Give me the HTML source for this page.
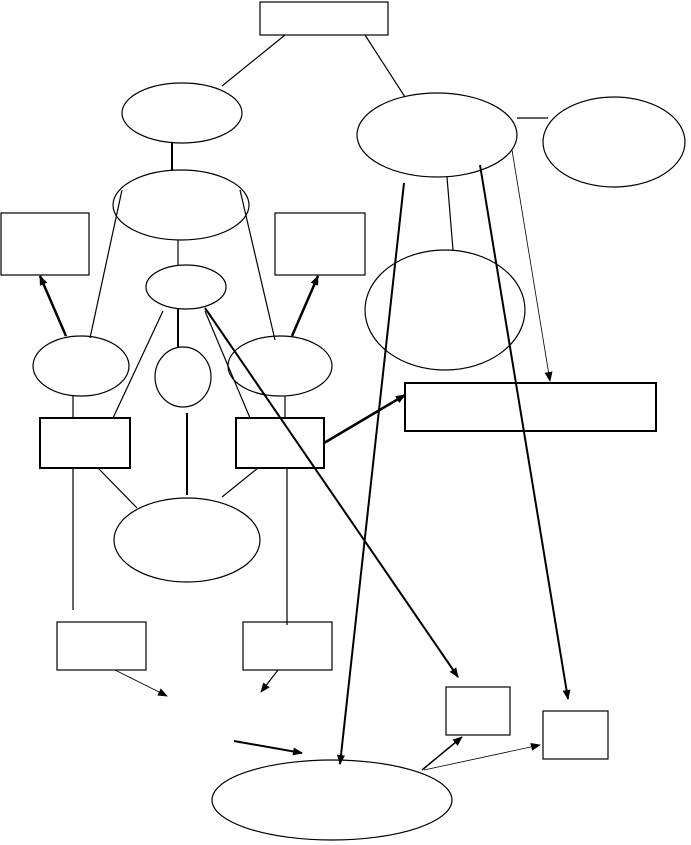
<!DOCTYPE html>
<html><head><meta charset="utf-8"><style>html,body{margin:0;padding:0;background:#fff}svg{display:block}</style></head>
<body>
<svg width="691" height="845" viewBox="0 0 691 845" xmlns="http://www.w3.org/2000/svg">
<defs>
<marker id="ah" markerWidth="10" markerHeight="10" refX="9" refY="5" orient="auto" markerUnits="userSpaceOnUse"><path d="M0,1 L10,5 L0,9 z" fill="#000"/></marker>
</defs>
<g fill="none" stroke="#000" stroke-width="1.2">
<rect x="260" y="2" width="128" height="33"/>
<rect x="1" y="213" width="88" height="62"/>
<rect x="275" y="213" width="90" height="62"/>
<rect x="40" y="418" width="90" height="50" stroke-width="2"/>
<rect x="236" y="418" width="88" height="50" stroke-width="2"/>
<rect x="57" y="622" width="89" height="48"/>
<rect x="243" y="622" width="89" height="48"/>
<rect x="446" y="687" width="64" height="48"/>
<rect x="543" y="711" width="65" height="48"/>
<rect x="405" y="383" width="251" height="48" stroke-width="2"/>
<ellipse cx="182" cy="113" rx="60" ry="30"/>
<ellipse cx="181" cy="205" rx="68" ry="35"/>
<ellipse cx="186" cy="287" rx="40" ry="22"/>
<ellipse cx="81" cy="366" rx="48" ry="30"/>
<ellipse cx="183" cy="377" rx="28" ry="30"/>
<ellipse cx="280" cy="366" rx="52" ry="30"/>
<ellipse cx="187" cy="540" rx="73" ry="42"/>
<ellipse cx="332" cy="800" rx="120" ry="40"/>
<ellipse cx="437" cy="135" rx="80" ry="42"/>
<ellipse cx="614" cy="142" rx="71" ry="45"/>
<ellipse cx="445" cy="310" rx="80" ry="60"/>
<line x1="285" y1="35" x2="222" y2="86"/>
<line x1="365" y1="35" x2="405" y2="97"/>
<line x1="172" y1="143" x2="172" y2="170" stroke-width="2"/>
<line x1="178" y1="240" x2="178" y2="265"/>
<line x1="122" y1="190" x2="90" y2="338"/>
<line x1="240" y1="190" x2="275" y2="340"/>
<line x1="178" y1="309" x2="178" y2="347" stroke-width="2"/>
<line x1="163" y1="311" x2="113" y2="418"/>
<line x1="205" y1="311" x2="250" y2="418"/>
<line x1="73" y1="396" x2="73" y2="418"/>
<line x1="285" y1="396" x2="285" y2="418"/>
<line x1="187" y1="413" x2="187" y2="495" stroke-width="2"/>
<line x1="98" y1="468" x2="137" y2="508"/>
<line x1="258" y1="468" x2="222" y2="497"/>
<line x1="73" y1="468" x2="73" y2="610"/>
<line x1="287" y1="468" x2="287" y2="625"/>
<line x1="517" y1="118" x2="548" y2="118"/>
<line x1="447" y1="177" x2="453" y2="250"/>
</g>
<g fill="none" stroke="#000" marker-end="url(#ah)">
<line x1="66" y1="336" x2="40" y2="276" stroke-width="2.5"/>
<line x1="292" y1="336" x2="318" y2="276" stroke-width="2.5"/>
<line x1="205" y1="308" x2="458" y2="677" stroke-width="2"/>
<line x1="115" y1="670" x2="167" y2="696" stroke-width="0.8"/>
<line x1="278" y1="670" x2="261" y2="692" stroke-width="1.2"/>
<line x1="234" y1="741" x2="302" y2="753" stroke-width="2"/>
<line x1="422" y1="770" x2="462" y2="737" stroke-width="1.5"/>
<line x1="424" y1="770" x2="540" y2="745" stroke-width="0.8"/>
<line x1="324" y1="443" x2="405" y2="395" stroke-width="2.5"/>
<line x1="512" y1="150" x2="550" y2="381" stroke-width="0.8"/>
<line x1="404" y1="183" x2="340" y2="764" stroke-width="2"/>
<line x1="480" y1="165" x2="568" y2="699" stroke-width="2"/>
</g>
</svg>
</body></html>
